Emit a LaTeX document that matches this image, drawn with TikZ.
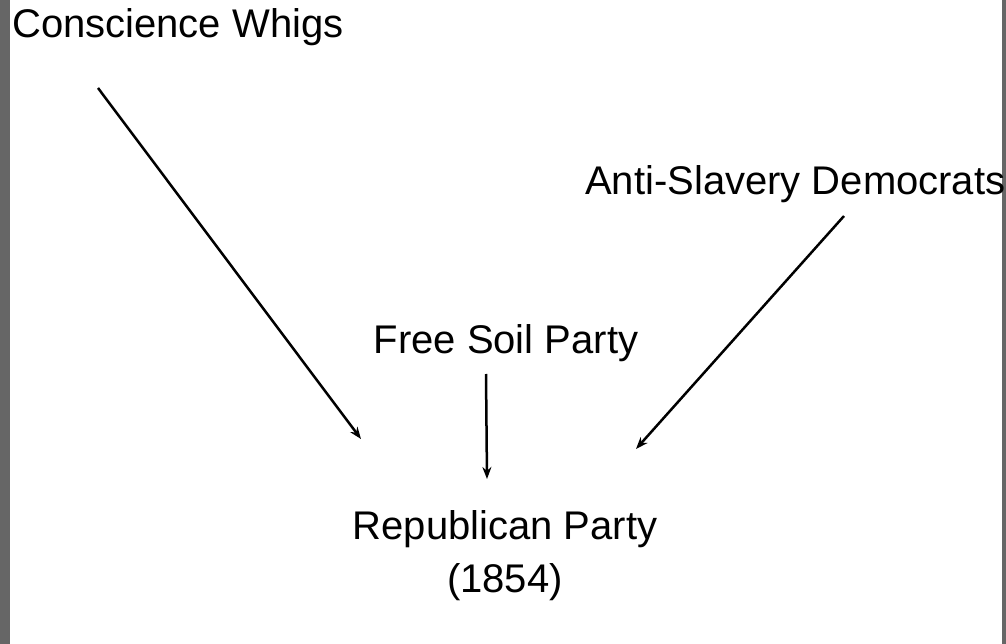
\documentclass[tikz,border=0pt]{standalone}
\usepackage{fontspec}
\setmainfont{Liberation Sans}
\usetikzlibrary{arrows.meta}
\definecolor{bargray}{HTML}{666666}
\tikzset{
  lbl/.style={font=\fontsize{40}{45}\selectfont, inner sep=0pt, anchor=base west, text=black},
  lblc/.style={font=\fontsize{40}{45}\selectfont, inner sep=0pt, anchor=base, text=black},
  conn/.style={line width=2.5pt, draw=black, -{Stealth[length=12pt,width=9pt]}}
}
\begin{document}
\begin{tikzpicture}[x=1pt,y=-1pt]
\useasboundingbox (0,0) rectangle (1006,644);
\fill[white] (0,0) rectangle (1006,644);
\fill[bargray] (0,0) rectangle (10,644);
\fill[bargray] (1002,0) rectangle (1006,644);
\node[lbl] (cw) at (12,38) {Conscience Whigs};
\node[lbl] (asd) at (585,195) {Anti-Slavery Democrats};
\node[lblc] (fsp) at (506,353) {Free Soil Party};
\node[lblc] (rp) at (505,539) {Republican Party};
\node[lblc] (yr) at (505,592) {(1854)};
\coordinate (cwS) at (98,88);
\coordinate (cwE) at (361,439);
\coordinate (asdS) at (844,216);
\coordinate (asdE) at (636,449);
\coordinate (fspS) at (486,374);
\coordinate (fspE) at (487,479);
\draw[conn] (cwS) -- (cwE);
\draw[conn] (asdS) -- (asdE);
\draw[conn] (fspS) -- (fspE);
\end{tikzpicture}
\end{document}
